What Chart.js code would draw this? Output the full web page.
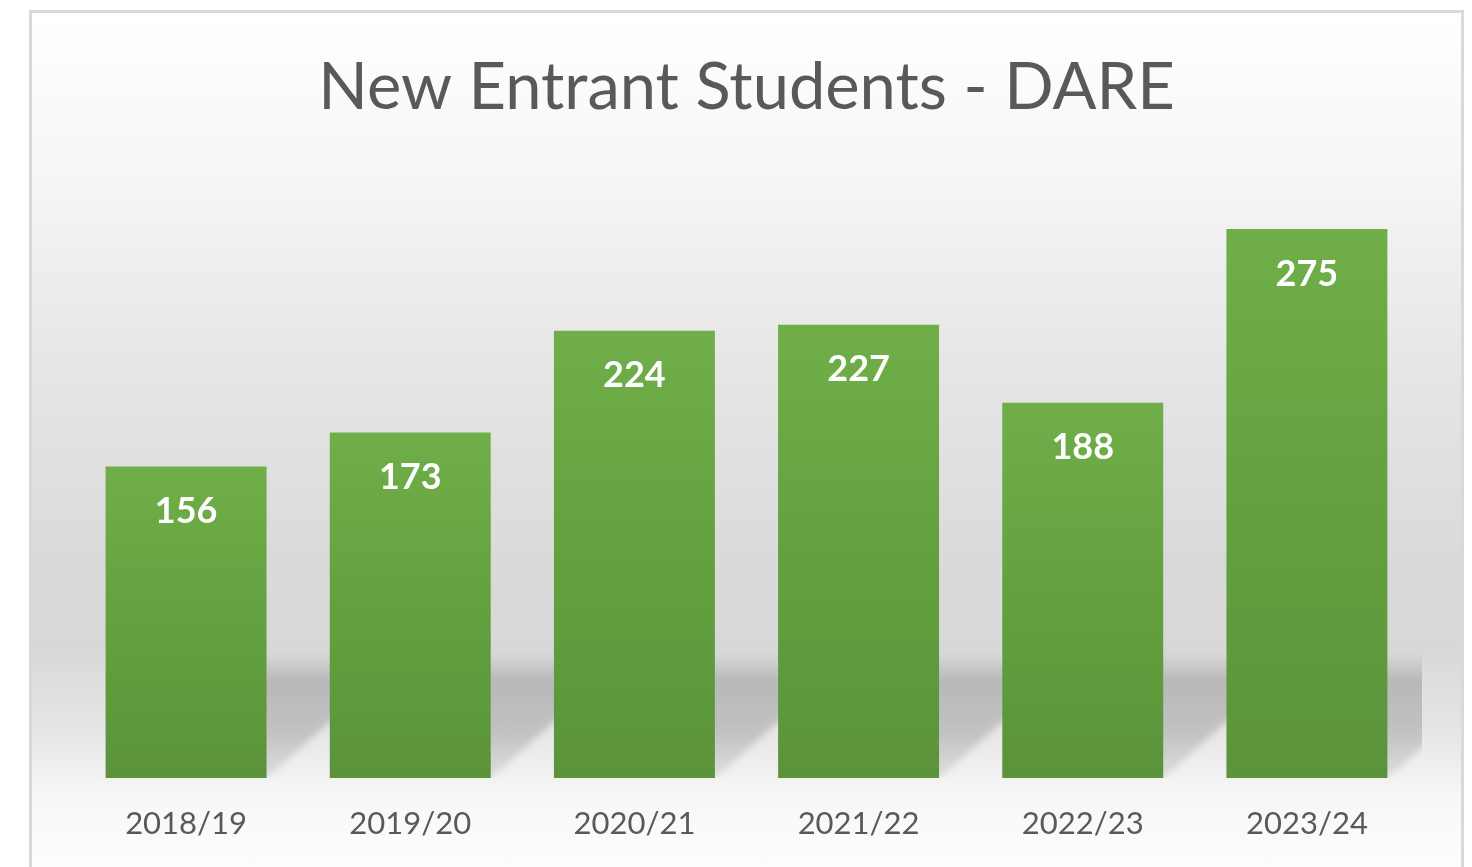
<!DOCTYPE html>
<html>
<head>
<meta charset="utf-8">
<script src="https://cdn.jsdelivr.net/npm/chart.js@4"></script>
<style>
  html, body { margin: 0; padding: 0; background: #ffffff; overflow: hidden; }
  .frame {
    position: absolute; left: 29px; top: 10px; width: 1429px; height: 880px;
    border: 3px solid #d9d9d9;
    background: linear-gradient(to bottom, #ffffff 0%, #f6f6f6 18%, #e6e6e6 40%, #dadada 62%, #d8d8d8 72%, #e6e6e6 82%, #f7f7f7 89%, #ffffff 100%);
  }
  .wrap { position: absolute; left: 0; top: 0; width: 1472px; height: 867px; }
</style>
</head>
<body>
<div class="frame"></div>
<div class="wrap"><canvas id="chart"></canvas></div>
<script>
const years = ["2018/19", "2019/20", "2020/21", "2021/22", "2022/23", "2023/24"];
const entrants = [156, 173, 224, 227, 188, 275];
const chartTitle = "New Entrant Students - DARE";

// soft skewed floor shadow behind every bar
const barShadow = {
  id: "barShadow",
  beforeDatasetsDraw(chart) {
    const ctx = chart.ctx;
    const area = chart.chartArea;
    const bars = chart.getDatasetMeta(0).data;
    ctx.save();
    ctx.beginPath();
    ctx.rect(area.left, area.top, area.right - area.left + 3, area.bottom - area.top);
    ctx.clip();
    ctx.filter = "blur(3px)";
    bars.forEach(function (bar) {
      const left = bar.x - bar.width / 2;
      const right = bar.x + bar.width / 2;
      const bottom = bar.base;
      const dx = 140, h = 125;
      const g = ctx.createLinearGradient(0, bottom - h, 0, bottom);
      g.addColorStop(0, "rgba(80,80,80,0.0)");
      g.addColorStop(0.22, "rgba(80,80,80,0.26)");
      g.addColorStop(0.6, "rgba(80,80,80,0.24)");
      g.addColorStop(1, "rgba(80,80,80,0.12)");
      ctx.fillStyle = g;
      ctx.beginPath();
      ctx.moveTo(left, bottom);
      ctx.lineTo(right, bottom);
      ctx.lineTo(right + dx, bottom - h);
      ctx.lineTo(left + dx, bottom - h);
      ctx.closePath();
      ctx.fill();
    });
    ctx.restore();
  },
};

// white value labels inside the top of the bars
const valueLabels = {
  id: "valueLabels",
  afterDatasetsDraw(chart) {
    const ctx = chart.ctx;
    const meta = chart.getDatasetMeta(0);
    ctx.save();
    ctx.fillStyle = "#ffffff";
    ctx.font = "bold 36px Lato";
    ctx.textAlign = "center";
    ctx.textBaseline = "middle";
    meta.data.forEach(function (bar, i) {
      ctx.fillText(String(entrants[i]), bar.x, bar.y + 45);
    });
    ctx.restore();
  },
};

const ctx = document.getElementById("chart").getContext("2d");
new Chart(ctx, {
  type: "bar",
  data: {
    labels: years,
    datasets: [
      {
        label: "New entrants",
        data: entrants,
        backgroundColor: function (context) {
          const chart = context.chart;
          const area = chart.chartArea;
          if (!area || context.parsed === undefined) return "#66a243";
          const top = chart.scales.y.getPixelForValue(context.parsed.y);
          const g = chart.ctx.createLinearGradient(0, top, 0, area.bottom);
          g.addColorStop(0, "#6fae48");
          g.addColorStop(0.55, "#62a03e");
          g.addColorStop(1, "#5b933a");
          return g;
        },
        borderWidth: 0,
        categoryPercentage: 1,
        barPercentage: 0.718,
      },
    ],
  },
  options: {
    responsive: true,
    maintainAspectRatio: false,
    animation: false,
    layout: { padding: { left: 74, right: 53, top: 0, bottom: 6 } },
    scales: {
      x: {
        grid: { display: false },
        border: { display: false },
        ticks: {
          color: "#595959",
          font: { family: "Lato", size: 31, lineHeight: 1.0 },
          padding: 22,
        },
      },
      y: {
        display: false,
        min: 0,
        max: 300,
      },
    },
    plugins: {
      legend: { display: false },
      tooltip: { enabled: false },
      title: {
        display: true,
        text: chartTitle,
        color: "#595959",
        font: { family: "Lato", size: 65, weight: "normal" },
        padding: { top: 49, bottom: 52 },
      },
    },
  },
  plugins: [barShadow, valueLabels],
});
</script>
</body>
</html>
